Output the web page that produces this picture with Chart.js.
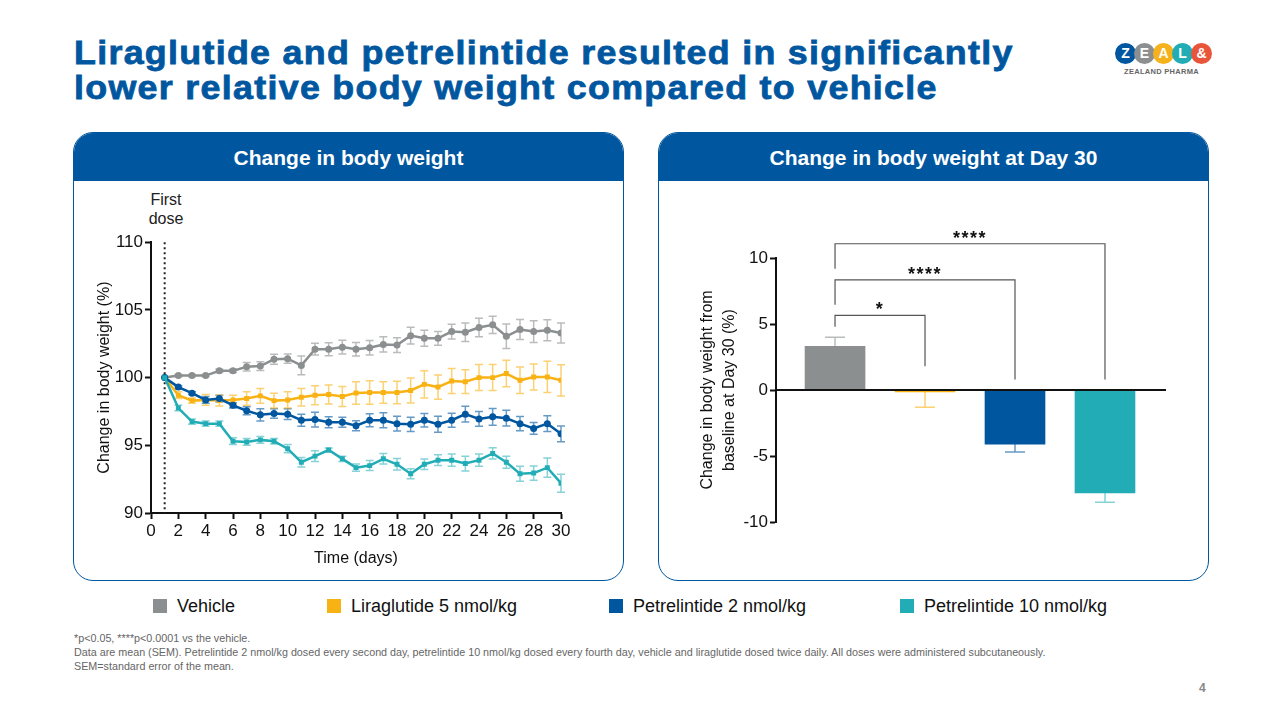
<!DOCTYPE html>
<html>
<head>
<meta charset="utf-8">
<script src="https://cdn.jsdelivr.net/npm/chart.js@4.4.1/dist/chart.umd.min.js"></script>
<style>
  body { margin: 0; width: 1280px; height: 720px; background: #fff; font-family: "Liberation Sans", Arial, sans-serif; position: relative; overflow: hidden; }
  .abs { position: absolute; }
  .title { left: 74px; top: 35px; font-size: 33px; font-weight: bold; line-height: 35px; color: #0057a0; letter-spacing: 1.2px; -webkit-text-stroke: 0.8px #0057a0; transform: scaleX(1.085); transform-origin: left top; white-space: nowrap; }
  .panel { border: 1.5px solid #0057a0; border-radius: 20px; overflow: hidden; box-sizing: border-box; }
  .panel .head { height: 48px; background: #0057a0; color: #fff; font-weight: bold; font-size: 21px; line-height: 50px; text-align: center; }
  .logo span.c { display: inline-block; width: 21px; height: 21px; border-radius: 50%; color: #fff; font-weight: bold; font-size: 14px; line-height: 21px; text-align: center; margin-right: -2px; }
  .legend { top: 597px; font-size: 18px; color: #111; line-height: 18px; }
  .legend i { display: inline-block; width: 14px; height: 14px; vertical-align: -1px; margin-right: 10px; }
  .foot { left: 74px; top: 631px; font-size: 10.76px; line-height: 14px; color: #666; }
</style>
</head>
<body>
<div class="abs title">Liraglutide and petrelintide resulted in significantly<br>lower relative body weight compared to vehicle</div>

<div class="abs logo" style="left:1115px; top:43px; white-space:nowrap;">
  <span class="c" style="background:#0057a0">Z</span><span class="c" style="background:#8c8f8f">E</span><span class="c" style="background:#f5b21c">A</span><span class="c" style="background:#22adb6">L</span><span class="c" style="background:#e8553a">&amp;</span>
</div>
<div class="abs" style="left:1124px; top:67px; font-size:7.5px; font-weight:bold; color:#666; letter-spacing:0.3px;">ZEALAND PHARMA</div>

<div class="abs panel" style="left:73px; top:132px; width:551px; height:449px;"><div class="head">Change in body weight</div></div>
<div class="abs panel" style="left:658px; top:132px; width:551px; height:449px;"><div class="head">Change in body weight at Day 30</div></div>

<canvas id="lineChart" class="abs" style="left:90px; top:230px;" width="490" height="340"></canvas>
<canvas id="barChart" class="abs" style="left:690px; top:225px;" width="490" height="315"></canvas>
<div class="abs" style="left:126px; top:190px; width:80px; text-align:center; font-size:16px; line-height:19px; color:#222;">First<br>dose</div>

<div id="legend"></div>

<div class="abs foot">*p&lt;0.05, ****p&lt;0.0001 vs the vehicle.<br>Data are mean (SEM). Petrelintide 2 nmol/kg dosed every second day, petrelintide 10 nmol/kg dosed every fourth day, vehicle and liraglutide dosed twice daily. All doses were administered subcutaneously.<br>SEM=standard error of the mean.</div>
<div class="abs" style="left:1199px; top:681px; font-size:12px; font-weight:bold; color:#888;">4</div>

<script>
// ---- data ----
const groups = ["Vehicle", "Liraglutide 5 nmol/kg", "Petrelintide 2 nmol/kg", "Petrelintide 10 nmol/kg"];
const colors = ["#8c8f8f", "#f9b214", "#0057a0", "#22adb6"];
const errColors = ["rgba(140,143,143,0.6)", "rgba(249,178,20,0.6)", "rgba(0,87,160,0.6)", "rgba(34,173,182,0.55)"];

const days = [1, 2, 3, 4, 5, 6, 7, 8, 9, 10, 11, 12, 13, 14, 15, 16, 17, 18, 19, 20, 21, 22, 23, 24, 25, 26, 27, 28, 29, 30];

const vehicleMean = [100, 100.15, 100.15, 100.15, 100.5, 100.5, 100.8, 100.85, 101.35, 101.4, 100.9, 102.1, 102.1, 102.25, 102.1, 102.2, 102.45, 102.4, 103.1, 102.9, 102.9, 103.4, 103.35, 103.7, 103.9, 103.05, 103.55, 103.4, 103.5, 103.3];
const vehicleSem = [0, 0.08, 0.08, 0.08, 0.12, 0.12, 0.32, 0.32, 0.37, 0.34, 0.69, 0.43, 0.48, 0.5, 0.5, 0.54, 0.56, 0.54, 0.61, 0.59, 0.51, 0.54, 0.69, 0.69, 0.64, 0.9, 0.74, 0.8, 0.78, 0.74];

const liraMean = [100, 98.7, 98.3, 98.35, 98.3, 98.35, 98.45, 98.65, 98.3, 98.35, 98.55, 98.7, 98.75, 98.6, 98.87, 98.9, 98.9, 98.9, 99.05, 99.5, 99.3, 99.75, 99.7, 100.0, 100.0, 100.3, 99.8, 100.05, 100.05, 99.8];
const liraSem = [0, 0.25, 0.2, 0.4, 0.4, 0.35, 0.5, 0.55, 0.55, 0.6, 0.65, 0.7, 0.7, 0.74, 0.83, 0.86, 0.8, 0.83, 0.92, 1.0, 0.9, 0.93, 0.88, 0.96, 0.96, 0.98, 0.98, 0.96, 1.15, 1.15];

const pet2Mean = [100, 99.3, 98.85, 98.35, 98.45, 97.95, 97.55, 97.25, 97.35, 97.3, 96.85, 96.9, 96.7, 96.7, 96.45, 96.85, 96.85, 96.6, 96.55, 96.85, 96.55, 96.85, 97.3, 96.95, 97.1, 97.0, 96.6, 96.25, 96.6, 95.85];
const pet2Sem = [0, 0.1, 0.1, 0.25, 0.25, 0.2, 0.3, 0.45, 0.35, 0.4, 0.45, 0.55, 0.4, 0.37, 0.37, 0.48, 0.55, 0.55, 0.53, 0.49, 0.59, 0.51, 0.58, 0.55, 0.61, 0.58, 0.53, 0.43, 0.58, 0.58];

const pet10Mean = [100, 97.75, 96.75, 96.6, 96.6, 95.3, 95.25, 95.4, 95.3, 94.75, 93.75, 94.2, 94.65, 94.0, 93.35, 93.5, 94.0, 93.6, 92.9, 93.6, 93.9, 93.9, 93.65, 93.9, 94.4, 93.75, 92.9, 92.95, 93.35, 92.2];
const pet10Sem = [0, 0.2, 0.2, 0.2, 0.2, 0.25, 0.25, 0.25, 0.2, 0.3, 0.35, 0.4, 0.15, 0.2, 0.27, 0.37, 0.39, 0.43, 0.37, 0.39, 0.4, 0.45, 0.55, 0.45, 0.42, 0.45, 0.56, 0.53, 0.71, 0.66];

const firstDoseDay = 1;

const day30Mean = [3.3, -0.15, -4.1, -7.8];
const day30Sem = [0.7, 1.15, 0.6, 0.7];

// significance brackets: vehicle vs group index, bracket level, drop levels at each end
const sigTargets = [1, 2, 3];
const sigLabels = ["*", "****", "****"];
const sigLevels = [5.65, 8.34, 11.08];
const sigLeftDrops = [4.8, 6.46, 9.18];
const sigRightDrops = [1.8, 0.8, 0.8];

const means = [vehicleMean, liraMean, pet2Mean, pet10Mean];
const sems = [vehicleSem, liraSem, pet2Sem, pet10Sem];
const pointStyles = ["circle", "rect", "circle", "rect"];

const FONT = "'Liberation Sans', Arial, sans-serif";
Chart.defaults.font.family = FONT;
Chart.defaults.color = "#111";

// legend
const legendX = [153, 327, 609, 900];
document.getElementById("legend").innerHTML = groups.map((g, i) =>
  `<div class="abs legend" style="left:${legendX[i]}px"><i style="background:${colors[i]}"></i>${g}</div>`).join("");

// ---- line chart ----
const lineErrorBars = {
  id: "lineErrorBars",
  beforeDatasetsDraw(chart) {
    const { ctx, scales: { x, y } } = chart;
    ctx.save();
    ctx.lineWidth = 1.5;
    for (let i = means.length - 1; i >= 0; i--) {
      ctx.strokeStyle = errColors[i];
      days.forEach((d, j) => {
        if (!sems[i][j]) return;
        const px = x.getPixelForValue(d);
        const top = y.getPixelForValue(means[i][j] + sems[i][j]);
        const bot = y.getPixelForValue(means[i][j] - sems[i][j]);
        ctx.beginPath();
        ctx.moveTo(px, top); ctx.lineTo(px, bot);
        ctx.moveTo(px - 4, top); ctx.lineTo(px + 4, top);
        ctx.moveTo(px - 4, bot); ctx.lineTo(px + 4, bot);
        ctx.stroke();
      });
    }
    // first dose dotted line
    const fx = x.getPixelForValue(firstDoseDay);
    ctx.strokeStyle = "#222";
    ctx.lineWidth = 2;
    ctx.setLineDash([2, 3]);
    ctx.beginPath();
    ctx.moveTo(fx, chart.chartArea.top);
    ctx.lineTo(fx, chart.chartArea.bottom);
    ctx.stroke();
    ctx.restore();
  }
};

new Chart(document.getElementById("lineChart"), {
  type: "line",
  data: {
    datasets: groups.map((g, i) => ({
      label: g,
      data: days.map((d, j) => ({ x: d, y: means[i][j] })),
      borderColor: colors[i],
      backgroundColor: colors[i],
      borderWidth: 2.5,
      pointRadius: 3.5,
      pointStyle: pointStyles[i],
      pointBorderWidth: 0,
      order: means.length - i
    }))
  },
  options: {
    responsive: false,
    animation: false,
    layout: { padding: { top: 10, right: 19, left: 0, bottom: 0 } },
    plugins: { legend: { display: false }, tooltip: { enabled: false } },
    scales: {
      x: {
        type: "linear", min: 0, max: 30,
        ticks: { stepSize: 2, font: { size: 17 }, color: "#111", padding: 2 },
        grid: { drawOnChartArea: false, tickLength: 6, color: "#111", tickWidth: 2 },
        border: { color: "#111", width: 2 },
        title: { display: true, text: "Time (days)", font: { size: 16 }, color: "#111", padding: { top: 4, bottom: 2 } },
        afterFit: s => { s.height = 57; }
      },
      y: {
        min: 90, max: 110,
        ticks: { stepSize: 5, font: { size: 17 }, color: "#111", padding: 2 },
        grid: { drawOnChartArea: false, tickLength: 6, color: "#111", tickWidth: 2 },
        border: { color: "#111", width: 2 },
        title: { display: true, text: "Change in body weight (%)", font: { size: 16 }, color: "#111", padding: { top: 5, bottom: 0 } },
        afterFit: s => { s.width = 61; }
      }
    }
  },
  plugins: [lineErrorBars]
});

// ---- bar chart ----
const barExtras = {
  id: "barExtras",
  afterDatasetsDraw(chart) {
    const { ctx, scales: { x, y }, chartArea } = chart;
    ctx.save();
    // zero line
    const y0 = y.getPixelForValue(0);
    ctx.strokeStyle = "#111";
    ctx.lineWidth = 2;
    ctx.beginPath();
    ctx.moveTo(chartArea.left, y0); ctx.lineTo(chartArea.right, y0);
    ctx.stroke();
    // error bars (away from zero)
    ctx.lineWidth = 1.5;
    day30Mean.forEach((m, i) => {
      const px = x.getPixelForValue(i);
      const end = m + Math.sign(m) * day30Sem[i];
      const py = y.getPixelForValue(m);
      const pe = y.getPixelForValue(end);
      ctx.strokeStyle = errColors[i];
      ctx.beginPath();
      ctx.moveTo(px, py); ctx.lineTo(px, pe);
      ctx.moveTo(px - 10, pe); ctx.lineTo(px + 10, pe);
      ctx.stroke();
    });
    // significance brackets
    ctx.strokeStyle = "#555";
    ctx.lineWidth = 1.2;
    ctx.fillStyle = "#111";
    ctx.font = "bold 18px " + FONT;
    ctx.letterSpacing = "1.5px";
    ctx.textAlign = "center";
    ctx.textBaseline = "alphabetic";
    const x0 = x.getPixelForValue(0);
    sigTargets.forEach((t, k) => {
      const x1 = x.getPixelForValue(t);
      const yl = y.getPixelForValue(sigLevels[k]);
      ctx.beginPath();
      ctx.moveTo(x0, y.getPixelForValue(sigLeftDrops[k]));
      ctx.lineTo(x0, yl);
      ctx.lineTo(x1, yl);
      ctx.lineTo(x1, y.getPixelForValue(sigRightDrops[k]));
      ctx.stroke();
      ctx.fillText(sigLabels[k], (x0 + x1) / 2, yl);
    });
    ctx.restore();
  }
};

new Chart(document.getElementById("barChart"), {
  type: "bar",
  data: {
    datasets: [{
      data: day30Mean.map((v, i) => ({ x: i, y: v })),
      backgroundColor: colors,
      barThickness: 60
    }]
  },
  options: {
    responsive: false,
    animation: false,
    layout: { padding: { top: 33, right: 14, left: 0, bottom: 18 } },
    plugins: { legend: { display: false }, tooltip: { enabled: false } },
    scales: {
      x: { type: "linear", min: -0.656, max: 3.678, offset: false, display: false },
      y: {
        min: -10, max: 10,
        ticks: { stepSize: 5, font: { size: 17 }, color: "#111", padding: 2 },
        grid: { drawOnChartArea: false, tickLength: 6, color: "#111", tickWidth: 2 },
        border: { color: "#111", width: 2 },
        title: { display: true, text: ["Change in body weight from", "baseline at Day 30 (%)"], font: { size: 16, lineHeight: 1.35 }, color: "#111", padding: { top: 7, bottom: 0 } },
        afterFit: s => { s.width = 86; }
      }
    }
  },
  plugins: [barExtras]
});
</script>
</body>
</html>
